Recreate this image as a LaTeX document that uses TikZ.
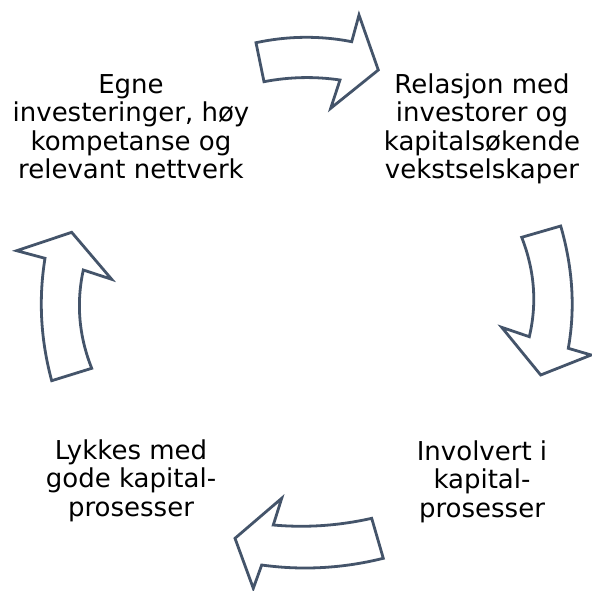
\documentclass[tikz,border=0pt]{standalone}
\usepackage{fontspec}
\setmainfont{DejaVu Sans}
\usepackage{tikz}
\usetikzlibrary{calc,positioning}
\definecolor{slate}{HTML}{44546A}
\begin{document}
\begin{tikzpicture}[x = 1pt,
                    y = -1pt,
                    color = {black}]
% style of arrows and texts
\tikzset{arrowstyle/.style={fill=white,draw=slate,line width=2.8pt,line join=miter},
         textstyle/.style={align=center,inner sep=0pt,font={\fontsize{26}{28.5}\selectfont}}}
% frame
\useasboundingbox (0,0) rectangle (592,590);
% coordinates
%top arrow
\coordinate (T1) at (256, 42.7);
\coordinate (T2) at (351.7, 41.7);
\coordinate (T3) at (359, 15);
\coordinate (T4) at (378.3, 70);
\coordinate (T5) at (330.7, 108.3);
\coordinate (T6) at (340, 80);
\coordinate (T7) at (264, 81.7);
\coordinate (Ta) at (304.2, 32.4);
\coordinate (Tb) at (302, 74.4);
%right arrow
\coordinate (R1) at (521.7, 237.3);
\coordinate (R2) at (560.7, 226);
\coordinate (R3) at (568.3, 348.3);
\coordinate (R4) at (591.2, 355);
\coordinate (R5) at (540.7, 375);
\coordinate (R6) at (501.7, 327.3);
\coordinate (R7) at (529.3, 336.7);
\coordinate (Ra) at (578.9, 288.9);
\coordinate (Rb) at (541.1, 287);
%bottom arrow
\coordinate (B1) at (371.7, 518.3);
\coordinate (B2) at (383.3, 558.3);
\coordinate (B3) at (261.7, 565);
\coordinate (B4) at (253.3, 588.3);
\coordinate (B5) at (235, 538.3);
\coordinate (B6) at (281.7, 498.3);
\coordinate (B7) at (273.3, 525);
\coordinate (Ba) at (322.5, 573.4);
\coordinate (Bb) at (322.5, 529.4);
%left arrow
\coordinate (L1) at (51.7, 380.7);
\coordinate (L2) at (91.7, 368.3);
\coordinate (L3) at (83.3, 270);
\coordinate (L4) at (111.7, 279.3);
\coordinate (L5) at (71.7, 232.3);
\coordinate (L6) at (16.7, 250.7);
\coordinate (L7) at (45, 258.3);
\coordinate (La) at (72.5, 319.9);
\coordinate (Lb) at (35.1, 319.5);

%arrows
\draw[arrowstyle]
 (T1) .. controls ($(T1)!2/3!(Ta)$) and ($(T2)!2/3!(Ta)$) .. (T2) --
 (T3) --
 (T4) --
 (T5) --
 (T6) .. controls ($(T6)!2/3!(Tb)$) and ($(T7)!2/3!(Tb)$) .. (T7) -- cycle ;
\draw[arrowstyle]
 (R2) .. controls ($(R2)!2/3!(Ra)$) and ($(R3)!2/3!(Ra)$) .. (R3) --
 (R4) --
 (R5) --
 (R6) --
 (R7) .. controls ($(R7)!2/3!(Rb)$) and ($(R1)!2/3!(Rb)$) .. (R1) -- cycle ;
\draw[arrowstyle]
 (B1) --
 (B2) .. controls ($(B2)!2/3!(Ba)$) and ($(B3)!2/3!(Ba)$) .. (B3) --
 (B4) --
 (B5) --
 (B6) --
 (B7) .. controls ($(B7)!2/3!(Bb)$) and ($(B1)!2/3!(Bb)$) .. (B1) -- cycle ;
\draw[arrowstyle]
 (L1) --
 (L2) .. controls ($(L2)!2/3!(La)$) and ($(L3)!2/3!(La)$) .. (L3) --
 (L4) --
 (L5) --
 (L6) --
 (L7) .. controls ($(L7)!2/3!(Lb)$) and ($(L1)!2/3!(Lb)$) .. (L1) -- cycle ;

%texts
\node[textstyle] (egne) at (131, 126.5)
  {Egne\\investeringer, høy\\kompetanse og\\relevant nettverk};
\node[textstyle] (relasjon) at (482, 129)
  {Relasjon med\\investorer og\\kapitalsøkende\\vekstselskaper};
\node[textstyle] (involvert) at (482, 481.5)
  {Involvert i\\kapital-\\prosesser};
\node[textstyle] (lykkes) at (131, 480.5)
  {Lykkes med\\gode kapital-\\prosesser};
\end{tikzpicture}
\end{document}
